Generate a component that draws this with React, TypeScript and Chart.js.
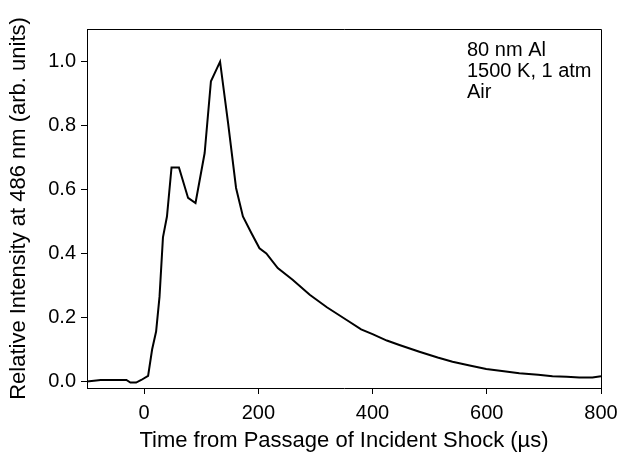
import React, { useEffect, useRef } from "react";
import { Chart, registerables } from "chart.js";

Chart.register(...registerables);

const timeValues = [-100, -76, -31, -24, -14, -5, 7, 14, 21, 27, 33, 40, 48, 61, 77, 90, 106, 117, 133, 147, 161, 173, 188, 202, 214, 234, 260, 290, 320, 354, 380, 400, 425, 447, 482, 514, 540, 570, 599, 630, 657, 690, 715, 740, 762, 785, 800];
const intensityValues = [0.0, 0.005, 0.005, -0.003, -0.003, 0.005, 0.018, 0.1, 0.156, 0.265, 0.45, 0.515, 0.668, 0.668, 0.573, 0.557, 0.713, 0.937, 0.998, 0.807, 0.604, 0.515, 0.463, 0.416, 0.4, 0.354, 0.318, 0.271, 0.232, 0.193, 0.163, 0.148, 0.128, 0.114, 0.093, 0.075, 0.062, 0.05, 0.039, 0.032, 0.026, 0.021, 0.017, 0.015, 0.013, 0.013, 0.017];
const annotationLines = ["80 nm Al", "1500 K, 1 atm", "Air"];
const xTitle = "Time from Passage of Incident Shock (\u00b5s)";
const yTitle = "Relative Intensity at 486 nm (arb. units)";

const FONT = "'Liberation Sans', Arial, sans-serif";

const framePlugin = {
  id: "frame",
  afterDraw(chart: any) {
    const { ctx, chartArea } = chart;
    ctx.save();
    ctx.strokeStyle = "#000";
    ctx.lineWidth = 1;
    ctx.beginPath();
    ctx.moveTo(chartArea.left, chartArea.top + 0.5);
    ctx.lineTo(chartArea.right + 0.5, chartArea.top + 0.5);
    ctx.lineTo(chartArea.right + 0.5, chartArea.bottom);
    ctx.stroke();
    ctx.fillStyle = "#000";
    ctx.font = `20px ${FONT}`;
    ctx.textAlign = "left";
    ctx.textBaseline = "alphabetic";
    annotationLines.forEach((t, i) => {
      ctx.fillText(t, chartArea.left + 380, chartArea.top + 27 + i * 21);
    });
    ctx.restore();
  },
};

export default function App() {
  const ref = useRef<HTMLCanvasElement>(null);
  useEffect(() => {
    if (!ref.current) return;
    const chart = new Chart(ref.current, {
      type: "line",
      data: {
        datasets: [
          {
            data: timeValues.map((x, i) => ({ x, y: intensityValues[i] })),
            borderColor: "#000",
            borderWidth: 2,
            pointRadius: 0,
            tension: 0,
            fill: false,
          },
        ],
      },
      options: {
        animation: false,
        responsive: false,
        events: [],
        layout: { padding: { top: 29, right: 17, left: 0, bottom: 0 } },
        plugins: { legend: { display: false }, tooltip: { enabled: false } },
        scales: {
          x: {
            type: "linear",
            min: -100,
            max: 800,
            afterFit: (s: any) => {
              s.height = 76;
              s.paddingLeft = 0;
              s.paddingRight = 0;
            },
            ticks: {
              stepSize: 200,
              includeBounds: false,
              color: "#000",
              padding: 7,
              font: { family: FONT, size: 20 },
              maxRotation: 0,
            },
            grid: { drawOnChartArea: false, drawTicks: true, tickLength: 6, color: "#000" },
            border: { display: true, color: "#000", width: 1 },
            title: {
              display: true,
              text: xTitle,
              color: "#000",
              font: { family: FONT, size: 22 },
              padding: { top: 0, bottom: 10 },
            },
          },
          y: {
            type: "linear",
            min: -0.02,
            max: 1.1,
            afterFit: (s: any) => {
              s.width = 87;
              s.paddingTop = 0;
              s.paddingBottom = 0;
            },
            ticks: {
              stepSize: 0.2,
              includeBounds: false,
              color: "#000",
              padding: 5,
              font: { family: FONT, size: 20 },
              callback: (v: any) => Number(v).toFixed(1),
            },
            grid: { drawOnChartArea: false, drawTicks: true, tickLength: 6, color: "#000" },
            border: { display: true, color: "#000", width: 1 },
            title: {
              display: true,
              text: yTitle,
              color: "#000",
              font: { family: FONT, size: 22 },
              padding: { top: 6, bottom: 0 },
            },
          },
        },
      },
      plugins: [framePlugin],
    });
    return () => chart.destroy();
  }, []);
  return (
    <div style={{ position: "absolute", left: 0, top: 0, width: 618, height: 464, background: "#fff" }}>
      <canvas ref={ref} width={618} height={464} />
    </div>
  );
}
